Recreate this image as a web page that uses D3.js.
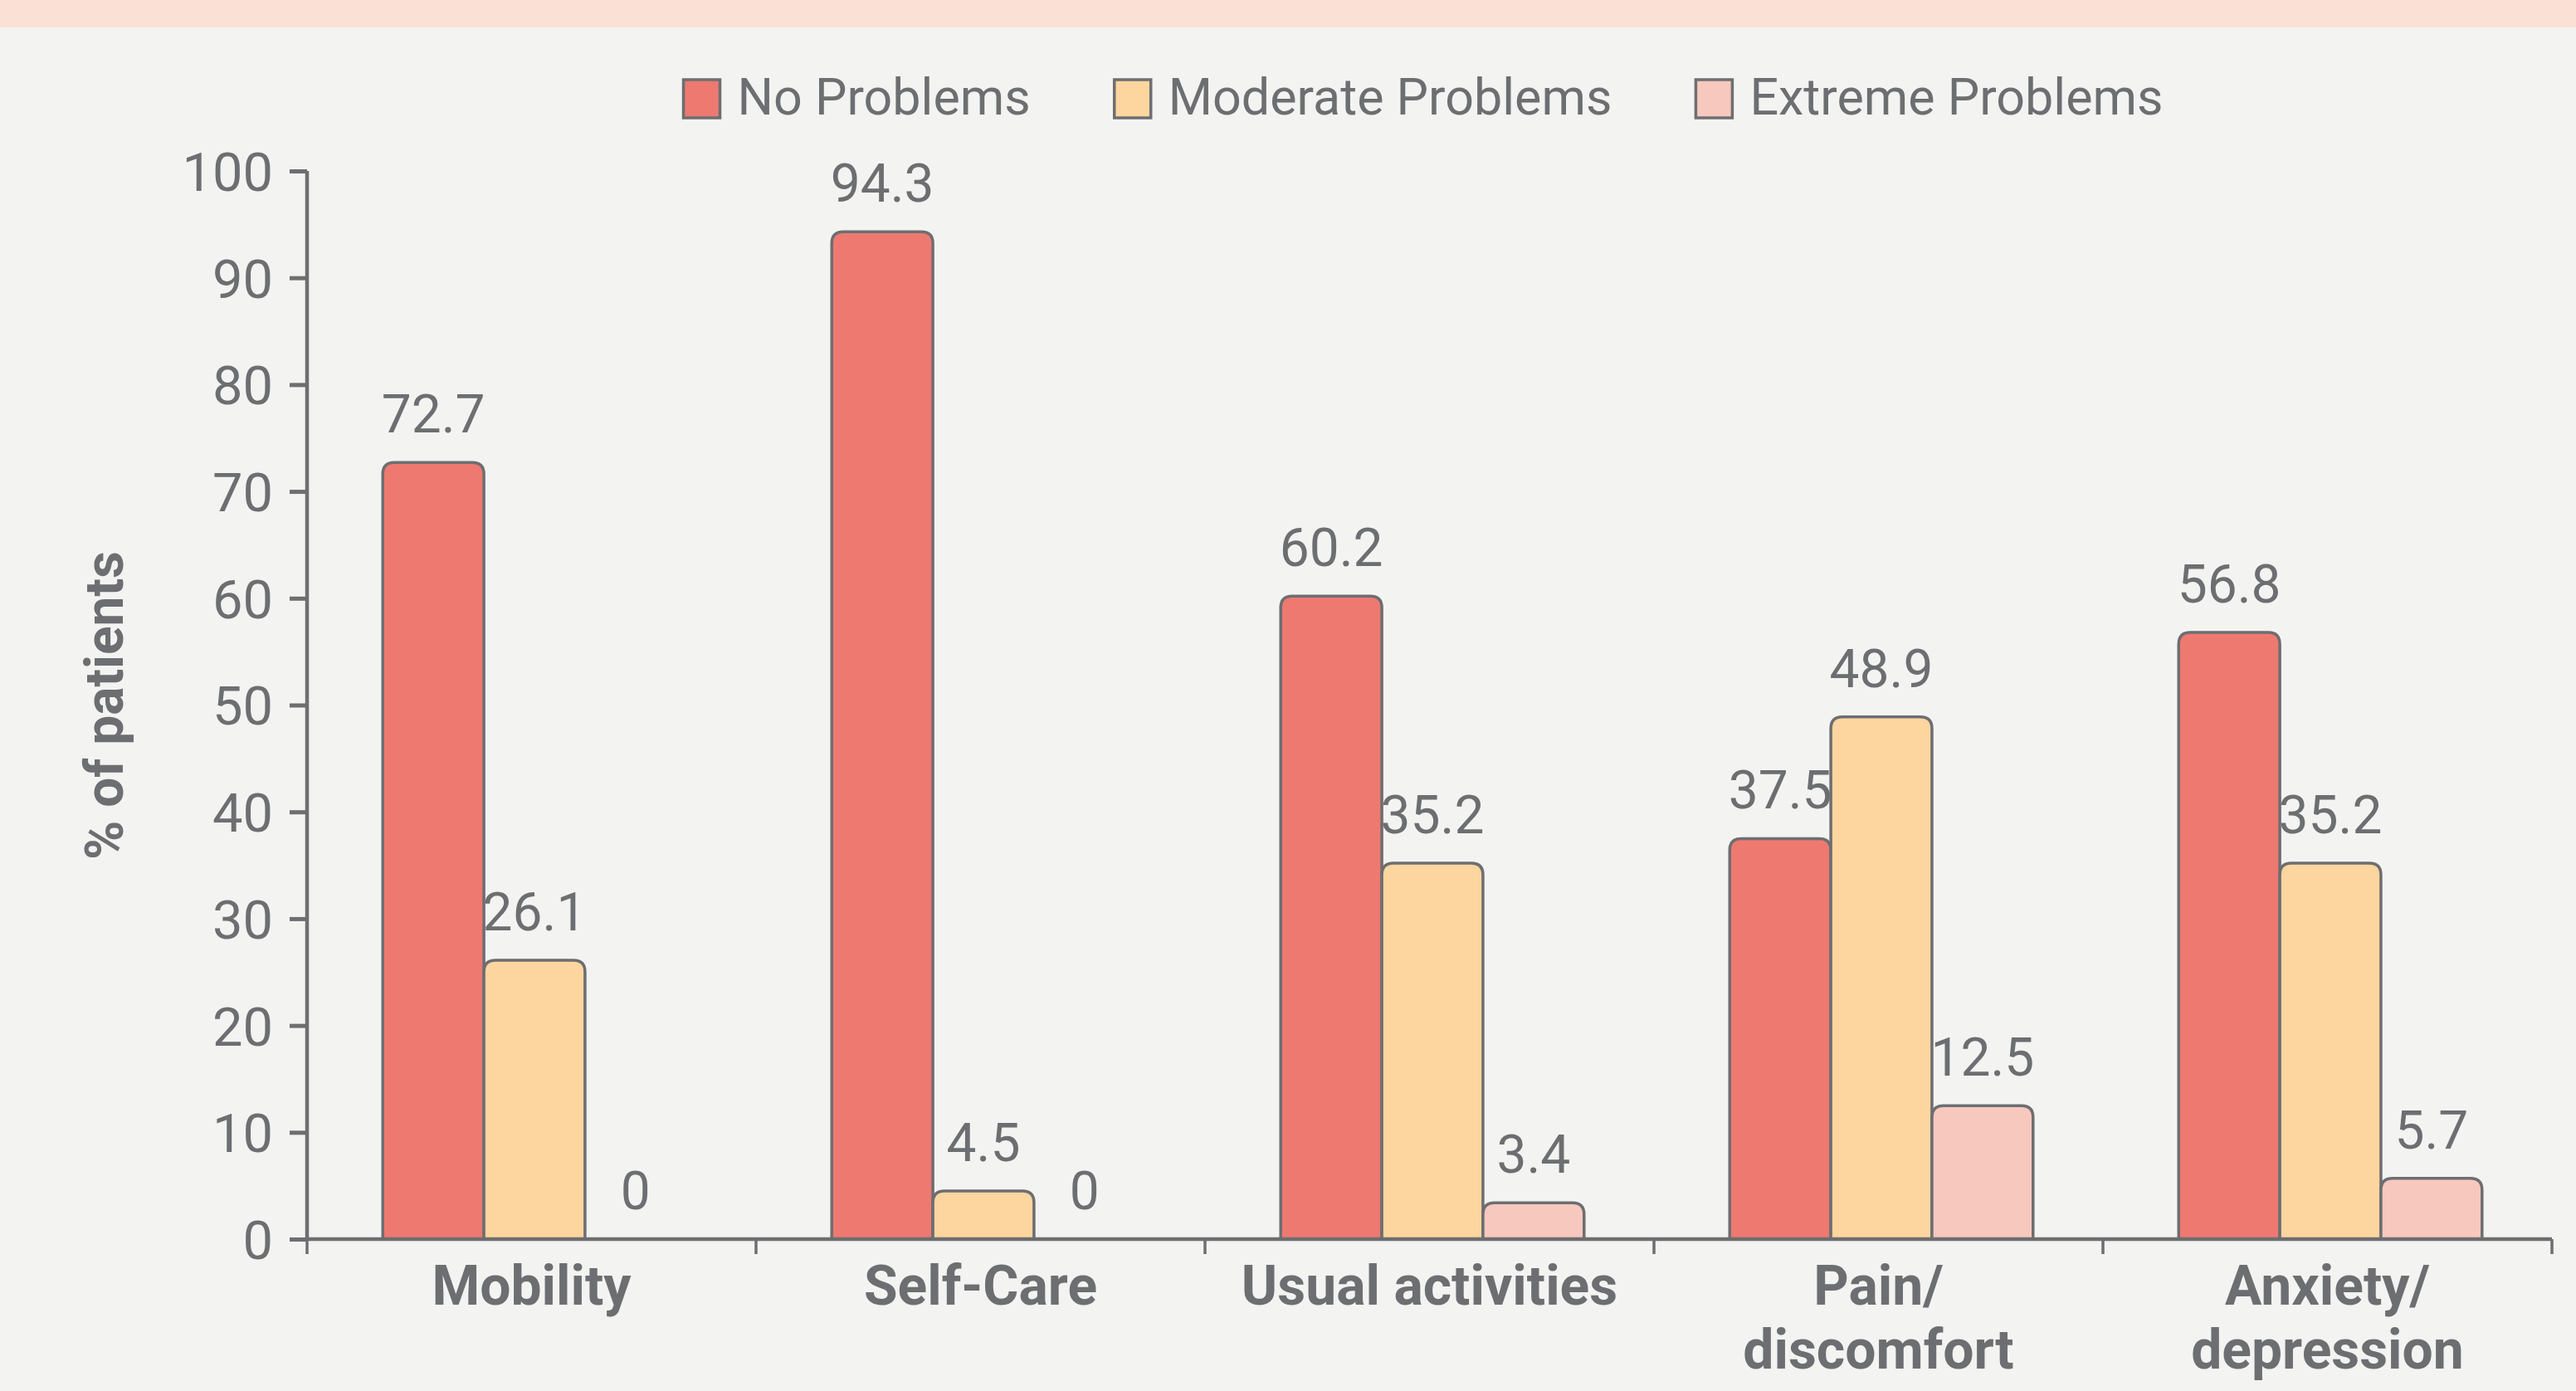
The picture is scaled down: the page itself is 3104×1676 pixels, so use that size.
<!DOCTYPE html>
<html>
<head>
<meta charset="utf-8">
<script src="https://cdn.jsdelivr.net/npm/d3@7"></script>
<style>
  html, body { margin: 0; padding: 0; background: #f3f3f1; }
  svg { display: block; }
  text { font-family: Roboto, "Noto Sans", sans-serif; fill: #6d6e71; }
</style>
</head>
<body>
<div id="content"></div>
<script>
var categories = ['Mobility', 'Self-Care', 'Usual activities', 'Pain/\ndiscomfort', 'Anxiety/\ndepression'];
var seriesNames = ['No Problems', 'Moderate Problems', 'Extreme Problems'];
var noProblems = [72.7, 94.3, 60.2, 37.5, 56.8];
var moderateProblems = [26.1, 4.5, 35.2, 48.9, 35.2];
var extremeProblems = [0, 0, 3.4, 12.5, 5.7];
var yTicks = [0, 10, 20, 30, 40, 50, 60, 70, 80, 90, 100];
var colors = ['#ee7970', '#fdd59f', '#f7c8be'];

var width = 3104, height = 1676;
var grey = '#6d6e71';
var plotLeft = 370, plotRight = 3075, plotTop = 206, plotBottom = 1493;

var svg = d3.select('#content').append('svg').attr('width', width).attr('height', height);

svg.append('rect').attr('width', width).attr('height', height).attr('fill', '#f3f3f1');
svg.append('rect').attr('width', width).attr('height', 33).attr('fill', '#fae0d5');

var values = [noProblems, moderateProblems, extremeProblems];
var rows = categories.map(function(c, i){
  return { cat: c, vals: values.map(function(s, j){ return { key: seriesNames[j], v: s[i], j: j }; }) };
});

var x0 = d3.scaleBand().domain(categories).range([plotLeft, plotRight]);
var x1 = d3.scaleBand().domain(seriesNames).range([0, x0.bandwidth()]).paddingOuter(0.72).align(0.52);
var y = d3.scaleLinear().domain([0, 100]).range([plotBottom, plotTop]);

// bars with rounded tops
function barPath(x, w, yTop, yBot, r) {
  r = Math.min(r, (yBot - yTop));
  return 'M' + x + ',' + yBot +
    'V' + (yTop + r) +
    'Q' + x + ',' + yTop + ' ' + (x + r) + ',' + yTop +
    'H' + (x + w - r) +
    'Q' + (x + w) + ',' + yTop + ' ' + (x + w) + ',' + (yTop + r) +
    'V' + yBot;
}

var groups = svg.selectAll('.group').data(rows).enter().append('g')
  .attr('class', 'group')
  .attr('transform', function(d){ return 'translate(' + x0(d.cat) + ',0)'; });

groups.selectAll('path.bar').data(function(d){ return d.vals.filter(function(v){ return v.v > 0; }); })
  .enter().append('path')
  .attr('class', 'bar')
  .attr('d', function(d){ return barPath(x1(d.key), x1.bandwidth(), y(d.v), y(0), 14); })
  .attr('fill', function(d){ return colors[d.j]; })
  .attr('stroke', grey)
  .attr('stroke-width', 3.5);

groups.selectAll('text.val').data(function(d){ return d.vals; })
  .enter().append('text')
  .attr('class', 'val')
  .attr('x', function(d){ return x1(d.key) + x1.bandwidth() / 2; })
  .attr('y', function(d){ return y(d.v) - 36; })
  .attr('text-anchor', 'middle')
  .style('font-size', '64px')
  .text(function(d){ return d.v; });

// y axis
var yAxis = svg.append('g').attr('transform', 'translate(' + plotLeft + ',0)')
  .call(d3.axisLeft(y).tickValues(yTicks).tickSize(21).tickPadding(20));
yAxis.select('.domain').attr('stroke', grey).attr('stroke-width', 4.5).attr('d', 'M0,' + plotTop + 'V' + plotBottom);
yAxis.selectAll('.tick line').attr('stroke', grey).attr('stroke-width', 5);
yAxis.selectAll('.tick text').attr('fill', grey).style('font-size', '65px').style('font-family', 'Roboto').attr('dy', '0.36em');

// x axis
var xAxis = svg.append('g').attr('transform', 'translate(0,' + plotBottom + ')');
xAxis.append('line').attr('x1', plotLeft).attr('x2', plotRight).attr('stroke', grey).attr('stroke-width', 4.5);
var xTickPos = categories.map(function(c){ return x0(c); }).concat([plotRight]);
xAxis.selectAll('line.xt').data(xTickPos).enter().append('line')
  .attr('class', 'xt')
  .attr('x1', function(d){ return d; }).attr('x2', function(d){ return d; })
  .attr('y1', 0).attr('y2', 18)
  .attr('stroke', grey).attr('stroke-width', 3.5);

var catLabels = xAxis.selectAll('text.cat').data(categories).enter().append('text')
  .attr('class', 'cat')
  .attr('text-anchor', 'middle')
  .attr('y', 79)
  .style('font-size', '66px').style('font-weight', 'bold');
catLabels.selectAll('tspan').data(function(d){ return d.split('\n'); }).enter().append('tspan')
  .attr('x', function(){ var c = d3.select(this.parentNode).datum(); return x0(c) + x0.bandwidth() / 2; })
  .attr('dy', function(d, i){ return i === 0 ? 0 : 77; })
  .text(function(d){ return d; });

// y title
svg.append('text')
  .attr('transform', 'translate(148,850) rotate(-90)')
  .attr('text-anchor', 'middle')
  .style('font-size', '64px').style('font-weight', 'bold')
  .text('% of patients');

// legend
var legend = svg.append('g');
var items = legend.selectAll('g').data(seriesNames).enter().append('g');
items.append('rect')
  .attr('width', 44).attr('height', 46).attr('y', 96)
  .attr('fill', function(d, i){ return colors[i]; })
  .attr('stroke', grey).attr('stroke-width', 3.5);
items.append('text')
  .attr('x', 65).attr('y', 138)
  .style('font-size', '61px')
  .text(function(d){ return d; });
var widths = [];
items.each(function(){ widths.push(this.getBBox().width); });
var gap = 101;
var total = d3.sum(widths) + gap * (widths.length - 1);
var pos = 1715 - total / 2;
items.attr('transform', function(d, i){
  var p = pos;
  pos += widths[i] + gap;
  return 'translate(' + p + ',0)';
});
</script>
</body>
</html>
